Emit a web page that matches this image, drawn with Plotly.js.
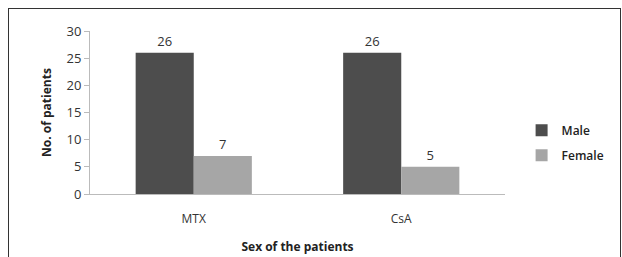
<!DOCTYPE html>
<html><head><meta charset="utf-8">
<script src="https://cdn.plot.ly/plotly-3.0.1.min.js"></script>
<style>
html,body{margin:0;padding:0;background:#fff;}
#wrap{position:relative;width:622px;height:257px;overflow:hidden;}
#chart{width:622px;height:257px;}
#frame{position:absolute;left:8px;top:8px;width:611px;height:270px;border:1.5px solid #333;pointer-events:none;}
</style></head>
<body><div id="wrap"><div id="chart"></div><div id="frame"></div></div>
<script>
const categories = ["MTX", "CsA"];
const maleValues = [26, 26];
const femaleValues = [7, 5];
const seriesNames = ["Male", "Female"];
const yTicks = [0, 5, 10, 15, 20, 25, 30];

const font = "Open Sans, Liberation Sans, sans-serif";
const data = [
  {type:"bar", name:seriesNames[0], x:categories, y:maleValues, marker:{color:"#4d4d4d"},
   text:maleValues.map(String), textposition:"outside", cliponaxis:false,
   textfont:{family:font,size:13,color:"#333"}, legendgroup:"m"},
  {type:"bar", name:seriesNames[1], x:categories, y:femaleValues, marker:{color:"#a6a6a6"},
   text:femaleValues.map(String), textposition:"outside", cliponaxis:false,
   textfont:{family:font,size:13,color:"#333"}, legendgroup:"f"}
];
const layout = {
  width:622, height:257,
  margin:{l:90, r:106, t:31, b:63},
  paper_bgcolor:"#fff", plot_bgcolor:"#fff",
  font:{family:font, size:12, color:"#333"},
  barmode:"group", bargap:0.44, bargroupgap:0,
  showlegend:true,
  legend:{x:1.04, xanchor:"left", y:0.48, yanchor:"top", traceorder:"grouped", tracegroupgap:6,
    font:{family:font,size:12,color:"#222",weight:600}, itemwidth:30},
  xaxis:{type:"category", showline:true, linecolor:"#bbb", linewidth:1, ticks:"", showgrid:false,
    tickfont:{family:font,size:12,color:"#333"}, ticklabelstandoff:14,
    title:{text:"<b>Sex of the patients</b>", font:{family:font,size:12,color:"#222"}, standoff:16}},
  yaxis:{range:[0,30], tickvals:yTicks, showline:true, linecolor:"#bbb", linewidth:1, ticks:"outside",
    ticklen:5, tickcolor:"#bbb", showgrid:false, zeroline:false,
    tickfont:{family:font,size:13,color:"#333"},
    title:{text:"<b>No. of patients</b>", font:{family:font,size:12,color:"#222"}, standoff:12}}
};
Plotly.newPlot("chart", data, layout, {staticPlot:true, displayModeBar:false});
</script></body></html>
